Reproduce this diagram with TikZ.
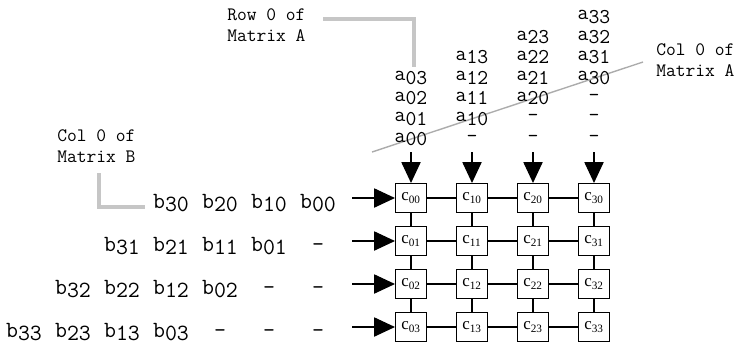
\documentclass[tikz,border=0pt]{standalone}
\usepackage{fontspec}
\setmainfont{Liberation Serif}
\usetikzlibrary{arrows.meta}

% lowered index, same size as the letter
\newcommand{\lowsub}[1]{\raisebox{-2.5pt}{#1}}

\begin{document}
\begin{tikzpicture}[
  % one unit = one pixel of the sketch, y going down
  x=0.025cm,
  y=-0.025cm,
  cell/.style={draw, line width=0.9pt, minimum width=0.77cm, minimum height=0.72cm,
    inner sep=0pt, font=\fontsize{12}{14}\selectfont},
  aent/.style={anchor=base, inner sep=0pt, font=\fontsize{15}{17}\ttfamily},
  bent/.style={anchor=base, inner sep=0pt, font=\fontsize{16.5}{18}\ttfamily},
  lbl/.style={align=left, anchor=west, inner sep=0pt, font=\fontsize{13.5}{15}\ttfamily},
  link/.style={line width=0.8pt},
  feed/.style={line width=0.8pt, -{Triangle[length=0.52cm, width=0.48cm]}},
  guide/.style={gray!45, line width=2.2pt},
  slope/.style={gray!65, line width=1pt}
]
  \useasboundingbox (0,0) rectangle (742,345);

  % Pointers to row 0 / column 0
  \coordinate (rowAs) at (323,19);
  \coordinate (rowAe) at (414,67);
  \draw[guide] (rowAs) -| (rowAe);
  \coordinate (colBs) at (99,173);
  \coordinate (colBe) at (145,207);
  \draw[guide] (colBs) |- (colBe);
  \coordinate (colAs) at (643,62);
  \coordinate (colAe) at (372,152);
  \draw[slope] (colAs) -- (colAe);

  \node[lbl] (rowA) at (227,25) {Row 0 of\\Matrix A};
  \node[lbl] (colB) at (57,146) {Col 0 of\\Matrix B};
  \node[lbl] (colA) at (656,60) {Col 0 of\\Matrix A};

  % Processing cells
  \foreach \i/\cx in {0/411,1/472,2/533,3/594}
    \foreach \r/\ry in {0/198,1/241,2/284,3/327}
      \node[cell] (c\i\r) at (\cx,\ry) {c\textsubscript{\i\r}};

  % Links between neighbours
  \foreach \i/\n in {0/1,1/2,2/3}
    \foreach \r in {0,...,3}
      \draw[link] (c\i\r.east) -- (c\n\r.west);
  \foreach \i in {0,...,3}
    \foreach \r/\n in {0/1,1/2,2/3}
      \draw[link] (c\i\r.south) -- (c\i\n.north);

  % Matrix A streams, skewed columns
  \foreach \i/\cx in {0/411,1/472,2/533,3/594} {
    \foreach \k in {0,...,3}
      \node[aent] (a\i\k) at (\cx,{142-20.4*(\k+\i)}) {a\lowsub{\i\k}};
    \ifnum\i>0
      \foreach \k in {1,...,\i}
        \node[aent] (ad\i\k) at (\cx,{142-20.4*(\k-1)}) {-};
    \fi
    \coordinate (ain\i) at (\cx,152);
    \draw[feed] (ain\i) -- (c\i0.north);
  }

  % Matrix B streams, skewed rows
  \foreach \r/\ry in {0/198,1/241,2/284,3/327} {
    \foreach \k in {0,...,3}
      \node[bent] (b\k\r) at ({318-49*(\k+\r)},{\ry+10}) {b\lowsub{\k\r}};
    \ifnum\r>0
      \foreach \k in {1,...,\r}
        \node[bent] (bd\r\k) at ({318-49*(\k-1)},{\ry+10}) {-};
    \fi
    \coordinate (bin\r) at (352,\ry);
    \draw[feed] (bin\r) -- (c0\r.west);
  }
\end{tikzpicture}
\end{document}
